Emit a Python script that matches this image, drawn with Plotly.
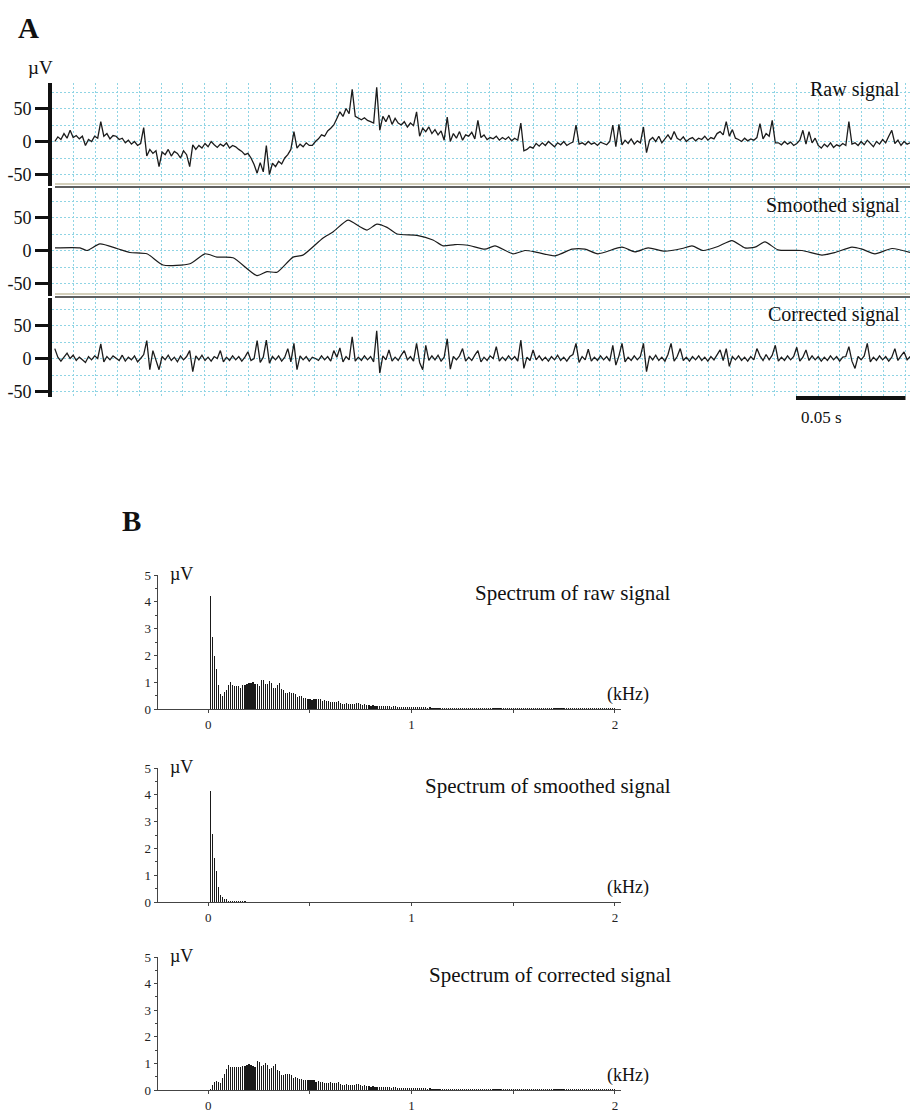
import numpy as np
import plotly.graph_objects as go

W, H = 910, 1113
FONT = "Liberation Serif"

# ---------------- data: panel A (µV) ----------------
DT = 0.0014          # s between samples of raw/corrected traces
T0 = 0.0015          # s, first sample
raw_signal = (
    [0, 7, 3, 12, 5, 17, 6, 9, 4, 8] + [-6, 3, 0, 8, 5] + [30, 8] + [12, 4, 9]
    + [8, 3, 5, -2, 2, -4, 0, -6, -3, 21] + [-22]
    + [-12, -18, -14, -38, -16, -20, -12, -22, -15, -18, -25, -14, -20] + [-38, -5]
    + [-12, -6, -10, -3, -8, 0, -5, -9, -4, -7, -2, -10, -6, -8, -12]
    + [-15, -20, -18, -25] + [-35, -48, -32, -46, -6, -50]
    + [-33, -38, -30, -34, -25, -20, -12, 15, -10, -4, -8, -2, -6]
    + [-6, 0, 4, 10, 8, 16, 20, 25] + [35, 45, 38, 50, 42] + [79, 38]
    + [35, 33, 36, 32, 30, 28] + [82, 17] + [38, 30, 40, 26, 35, 28]
    + [25, 30, 22, 28, 24, 45] + [8] + [20, 15, 22, 12, 18, 10, 16, 2, 37] + [0]
    + [12, 5, 15, 2, 10, 8, 14, 4, 32, 6, 10, 3] + [6, 4, 8, 2, 6, 3, 7, 1, 5, 2]
    + [28, -14] + [-12, -8, -10] + [-3, -7, -2, -6, 0, -4, -8, -2, -5, 0, -6, -3, -1]
    + [25, -4] + [-2, -5, 0, -4, -2, -6, -1, -3, -5, 0, 25] + [-8, 26, -5]
    + [2, -3, 4, -4, 1, -2] + [22, -17] + [2, 6, 0, 8, -2, 4, 10, 3, 15]
    + [5, 2, 7, 0, 4, 6, 1, 5, 3, 8, 2, 6, 4, 12] + [15, 10, 30, 8, 18, 5]
    + [3, 0, 5, 1, 4, 2] + [6, 27, 4, 12, 8, 32, -2] + [-2, -5, 0, -4, -1, -6, -3, 2]
    + [17, -4, 15, -2, 5] + [-6, -10, -4, -8, -2, -9, -5, -7, -3, -6] + [30, -4]
    + [-2, -6, 0, -5, 2, -3, -8, 0, -4, 3, -2, 8] + [17] + [-3, 2, -6, 0, -4, -2]
)

corrected_signal = [
    15, 2, -4, 3, 8, 0, 5, -3, 2, -2,
    -6, 3, -2, 4, 0, 22, -5, 3, -2, 4,
    0, -3, 5, -4, 2, -2, 4, -5, 0, 6,
    27, -17, 12, -4, -17, 3, -2, 5, -3, 2,
    -5, 4, -2, 3, 12, -20, 4, -2, 5, -3,
    2, -4, 3, 0, 12, -5, 2, -3, 4, -2,
    3, -4, 2, 10, -3, 0, 27, -6, 2, 28,
    -7, 3, -2, 4, -4, 2, 15, -5, 23, -17,
    4, -2, 3, -4, 2, 0, -3, 4, -2, 3,
    -4, 12, 2, 16, -5, 3, -2, 33, -4, 2,
    -3, 4, -2, 3, -5, 42, -22, 4, -2, 13,
    -4, 2, -3, 5, 12, -2, 3, -4, 23, -6,
    -17, 20, -3, 4, -2, 5, -4, 2, 30, -16,
    3, -2, 4, 15, -4, 2, -3, 5, 12, -5,
    2, -3, 4, 0, 18, -4, 2, -3, 4, -2,
    3, -4, 28, -15, 2, -3, 13, -2, 4, -3,
    2, -4, 3, -2, 5, -3, 2, -4, 3, 6,
    23, -6, 3, -2, 14, -4, 2, -3, 4, -2,
    3, -4, 20, -10, 4, 23, -5, 2, -3, 4,
    -2, 3, 23, -20, 4, -2, 5, -3, 2, -4,
    6, 23, -4, 3, 15, -3, 2, -4, 3, -2,
    4, -3, 2, -4, 3, -2, 5, 13, -3, 15,
    -12, 3, -2, 4, -3, 2, -4, 3, -2, 15,
    4, -3, 6, -2, 5, 20, -4, 2, -3, 4,
    -2, 3, 17, -4, 2, 13, -3, 4, -2, 3,
    -4, 2, -3, 4, -2, 3, -4, 2, 3, 18,
    -4, -15, 3, -2, 4, 23, -5, 2, -3, 4,
    -2, 3, -4, 2, 15, -3, 4, 10, -2, 3,
]

smoothed_time = [
    0.0016, 0.0130, 0.0162, 0.0221, 0.0299, 0.0358, 0.0436, 0.0509, 0.0632, 0.0701,
    0.0756, 0.0829, 0.0938, 0.0984, 0.1030, 0.1103, 0.1148, 0.1240, 0.1285, 0.1354,
    0.1408, 0.1441, 0.1486, 0.1532, 0.1578, 0.1669, 0.1742, 0.1788, 0.1842, 0.1902,
    0.1979, 0.2025, 0.2107, 0.2162, 0.2208, 0.2299, 0.2377, 0.2436, 0.2495, 0.2605,
    0.2664, 0.2724, 0.2801, 0.2879, 0.2925, 0.2975, 0.3043, 0.3107, 0.3166, 0.3212,
    0.3258, 0.3317, 0.3427, 0.3518, 0.3578, 0.3655, 0.3701, 0.3760, 0.3838, 0.3920,
]
smoothed_signal = [
    4, 4, 0, 10, 3, -3, -5, -22, -20, -5,
    -10, -11, -38, -32, -33, -10, -7, 19, 28, 46,
    36, 31, 40, 35, 25, 23, 16, 7, 9, 8,
    2, 7, -5, 0, -2, -8, 2, 2, -5, 5,
    -2, 4, -1, 3, 7, 0, 6, 15, 4, 5,
    13, 1, 0, -7, -3, 5, 2, -5, 3, -3,
]

# ---------------- data: panel B spectra (µV vs kHz) ----------------
FSTEP = 0.01  # kHz between spectral lines
spec_tail = [  # 1.01 .. 2.00 kHz, shared read-off of the flat tail
    0.07, 0.06, 0.07, 0.06, 0.06, 0.06, 0.06, 0.05, 0.06, 0.05,
    0.05, 0.05, 0.05, 0.04, 0.05, 0.04, 0.05, 0.04, 0.04, 0.04,
    0.04, 0.04, 0.04, 0.035, 0.04, 0.035, 0.035, 0.04, 0.035, 0.035,
    0.035, 0.035, 0.03, 0.035, 0.035, 0.03, 0.035, 0.03, 0.03, 0.035,
    0.03, 0.03, 0.03, 0.035, 0.03, 0.03, 0.03, 0.03, 0.03, 0.03,
    0.03, 0.03, 0.028, 0.03, 0.03, 0.028, 0.03, 0.028, 0.028, 0.03,
    0.028, 0.028, 0.028, 0.03, 0.028, 0.028, 0.025, 0.028, 0.028, 0.028,
    0.025, 0.028, 0.025, 0.028, 0.025, 0.025, 0.028, 0.025, 0.025, 0.025,
    0.025, 0.025, 0.028, 0.025, 0.025, 0.025, 0.025, 0.025, 0.025, 0.025,
    0.025, 0.025, 0.025, 0.022, 0.025, 0.025, 0.022, 0.025, 0.022, 0.025,
]
spec_raw = [
    4.2, 2.7, 1.97, 1.5, 0.88, 0.55, 0.48, 0.62, 0.72, 0.88,
    1.0, 0.9, 0.87, 0.87, 0.87, 0.8, 0.88, 0.9, 0.93, 0.97,
    0.98, 1.0, 0.93, 0.92, 0.85, 1.07, 1.08, 0.93, 0.95, 1.04,
    0.98, 0.8, 0.8, 0.9, 0.98, 0.75, 0.7, 0.58, 0.58, 0.62,
    0.6, 0.6, 0.55, 0.45, 0.5, 0.48, 0.4, 0.42, 0.38, 0.38,
    0.35, 0.36, 0.36, 0.38, 0.37, 0.3, 0.34, 0.3, 0.3, 0.28,
    0.27, 0.28, 0.27, 0.3, 0.22, 0.2, 0.2, 0.21, 0.2, 0.2,
    0.17, 0.2, 0.22, 0.22, 0.18, 0.16, 0.17, 0.14, 0.15, 0.12,
    0.14, 0.13, 0.12, 0.12, 0.11, 0.1, 0.11, 0.1, 0.1, 0.09,
    0.1, 0.1, 0.09, 0.08, 0.09, 0.08, 0.07, 0.08, 0.07, 0.07,
] + spec_tail
spec_smoothed = [
    4.15, 2.55, 1.65, 1.15, 0.55, 0.28, 0.18, 0.13, 0.1, 0.05,
    0.03, 0.02, 0.02, 0.02, 0.03, 0.04, 0.03, 0.02, 0.015, 0.01,
    0.01, 0.01, 0.008, 0.008, 0.01, 0.008, 0.006, 0.006, 0.005, 0.005,
]
spec_corrected = [
    0.05, 0.2, 0.3, 0.32, 0.3, 0.28, 0.45, 0.62, 0.78, 0.93,
    0.88, 0.86, 0.86, 0.86, 0.85, 0.88, 0.9, 0.92, 0.95, 0.96,
    0.93, 0.92, 0.85, 1.08, 1.05, 0.92, 0.95, 1.02, 0.95, 0.78,
    0.82, 0.9, 0.98, 0.75, 0.7, 0.58, 0.58, 0.62, 0.6, 0.6,
    0.55, 0.45, 0.5, 0.45, 0.4, 0.42, 0.38, 0.37, 0.36, 0.37,
    0.38, 0.36, 0.3, 0.34, 0.3, 0.29, 0.27, 0.28, 0.28, 0.3,
    0.27, 0.28, 0.27, 0.3, 0.22, 0.2, 0.2, 0.21, 0.2, 0.2,
    0.17, 0.2, 0.22, 0.22, 0.18, 0.16, 0.17, 0.14, 0.15, 0.12,
    0.14, 0.13, 0.12, 0.12, 0.11, 0.1, 0.11, 0.1, 0.1, 0.09,
    0.1, 0.1, 0.09, 0.08, 0.09, 0.08, 0.07, 0.08, 0.07, 0.07,
] + spec_tail

trace_labels = ["Raw signal", "Smoothed signal", "Corrected signal"]
spec_labels = ["Spectrum of raw signal", "Spectrum of smoothed signal",
               "Spectrum of corrected signal"]
y_ticks_A = [-50, 0, 50]
x_ticks_B = [0, 0.5, 1, 1.5, 2]
x_ticktext_B = ["0", "", "1", "", "2"]
scale_bar_s = 0.05


# ---------------- helpers ----------------
def px(x):
    return x / W


def py(y):
    return 1 - y / H


def ydom(top, bot):
    return [py(bot), py(top)]


t_sig = T0 + DT * np.arange(len(raw_signal))
t_cor = T0 + DT * np.arange(len(corrected_signal))

fig = go.Figure()
LINE = dict(color="#1c1c1c", width=1.3)
fig.add_trace(go.Scatter(x=t_sig, y=raw_signal, mode="lines", line=LINE,
                         xaxis="x", yaxis="y", showlegend=False, hoverinfo="skip"))
fig.add_trace(go.Scatter(x=smoothed_time, y=smoothed_signal, mode="lines",
                         line=dict(color="#1c1c1c", width=1.2, shape="spline", smoothing=0.6),
                         xaxis="x2", yaxis="y2", showlegend=False, hoverinfo="skip"))
fig.add_trace(go.Scatter(x=t_cor, y=corrected_signal, mode="lines", line=LINE,
                         xaxis="x3", yaxis="y3", showlegend=False, hoverinfo="skip"))

for i, spec in enumerate([spec_raw, spec_smoothed, spec_corrected]):
    f = FSTEP * (np.arange(len(spec)) + 1)
    fig.add_trace(go.Bar(x=f, y=spec, width=0.0058,
                         marker=dict(color="#1a1a1a", line=dict(width=0)),
                         xaxis=f"x{4+i}", yaxis=f"y{4+i}", showlegend=False,
                         hoverinfo="skip"))

GRID = "#8fd4e4"
GDASH = "2px,2px"
xA_dom = [px(51.5), px(910)]
xA_range = [0, (910 - 51.5) / 2190]
A_panels = [  # (top px, bottom px, zero px)
    (83, 186, 141.5),
    (188, 296, 250.5),
    (298, 397, 358.5),
]
PXPERUV = 0.66

layout = dict(width=W, height=H, margin=dict(l=0, r=0, t=0, b=0, pad=0, autoexpand=False),
              paper_bgcolor="white", plot_bgcolor="white",
              font=dict(family=FONT, color="#111"), bargap=0)

for i, (top, bot, zero) in enumerate(A_panels):
    xa = "xaxis" if i == 0 else f"xaxis{i+1}"
    ya = "yaxis" if i == 0 else f"yaxis{i+1}"
    yr = [-(bot - zero) / PXPERUV, (zero - top) / PXPERUV]
    layout[xa] = dict(domain=xA_dom, range=xA_range, anchor="y" if i == 0 else f"y{i+1}",
                      showticklabels=False, ticks="", showline=False, zeroline=False,
                      showgrid=True, dtick=0.01, tick0=0, gridcolor=GRID, griddash=GDASH,
                      gridwidth=1, automargin=False)
    layout[ya] = dict(domain=ydom(top, bot), range=yr, anchor="x" if i == 0 else f"x{i+1}",
                      tickvals=y_ticks_A, ticktext=[str(v) for v in y_ticks_A],
                      ticks="outside", ticklen=13, tickwidth=3.5, tickcolor="#111",
                      tickfont=dict(size=18, family=FONT, color="#111"),
                      showline=True, linewidth=3.5, linecolor="#111", automargin=False,
                      zeroline=False, showgrid=True, gridcolor=GRID, griddash=GDASH,
                      minor=dict(dtick=25, tick0=0, showgrid=True, gridcolor=GRID,
                                 griddash=GDASH, ticks=""))

B_panels = [(575, 709), (768, 902), (957, 1090)]
for i, (top, bot) in enumerate(B_panels):
    n = 4 + i
    layout[f"xaxis{n}"] = dict(domain=[px(157.5), px(621)], range=[-0.25, 2.03],
                               anchor=f"y{n}", tickvals=x_ticks_B, ticktext=x_ticktext_B,
                               ticks="outside", ticklen=3, tickwidth=1, tickcolor="#444",
                               showline=True, linewidth=1, linecolor="#444",
                               tickfont=dict(size=13, family=FONT, color="#222"),
                               showgrid=False, zeroline=False, automargin=False)
    layout[f"yaxis{n}"] = dict(domain=ydom(top, bot), range=[0, 5], anchor=f"x{n}",
                               tickvals=[0, 1, 2, 3, 4, 5], ticks="outside", ticklen=3,
                               tickwidth=1, tickcolor="#444", showline=True, linewidth=1,
                               linecolor="#444", showgrid=False, zeroline=False,
                               tickfont=dict(size=13, family=FONT, color="#222"),
                               automargin=False,
                               minor=dict(dtick=0.5, tick0=0, ticks="outside", ticklen=2,
                                          tickcolor="#444", showgrid=False))

shapes = []
for (yl, yd) in [(184, 187), (294, 297)]:
    shapes.append(dict(type="line", xref="paper", yref="paper", x0=px(55), x1=px(910),
                       y0=py(yl), y1=py(yl), line=dict(color="#d4d0bc", width=2)))
    shapes.append(dict(type="line", xref="paper", yref="paper", x0=px(55), x1=px(910),
                       y0=py(yd), y1=py(yd), line=dict(color="#2a2a2a", width=1.4)))
# 0.05 s scale bar
sb0 = (796 - 51.5) / 2190
shapes.append(dict(type="line", xref="x3", yref="paper", x0=sb0, x1=sb0 + scale_bar_s,
                   y0=py(398), y1=py(398), line=dict(color="#111", width=4)))
layout["shapes"] = shapes

ann = []


def text(x, y, s, size, xanchor="left", bold=False):
    ann.append(dict(xref="paper", yref="paper", x=px(x), y=py(y), text=f"<b>{s}</b>" if bold else s,
                    showarrow=False, xanchor=xanchor, yanchor="middle",
                    font=dict(size=size, family=FONT, color="#111")))


text(16, 28, "A", 29, bold=True)
text(26, 67, "µV", 19)
text(902, 90, trace_labels[0], 20, "right")
text(902, 205, trace_labels[1], 20, "right")
text(902, 314, trace_labels[2], 20, "right")
text(799, 417, f"{scale_bar_s} s", 17)
text(120, 521, "B", 29, bold=True)
for i, (top, bot) in enumerate(B_panels):
    text(168, top - 1, "µV", 18)
    text(673, top + 18, spec_labels[i], 21, "right")
    text(651, bot - 15, "(kHz)", 18, "right")
layout["annotations"] = ann

fig.update_layout(**layout)
fig.write_html("out.html", config={"displayModeBar": False, "staticPlot": True},
               post_script="document.body.style.margin='0px';")
